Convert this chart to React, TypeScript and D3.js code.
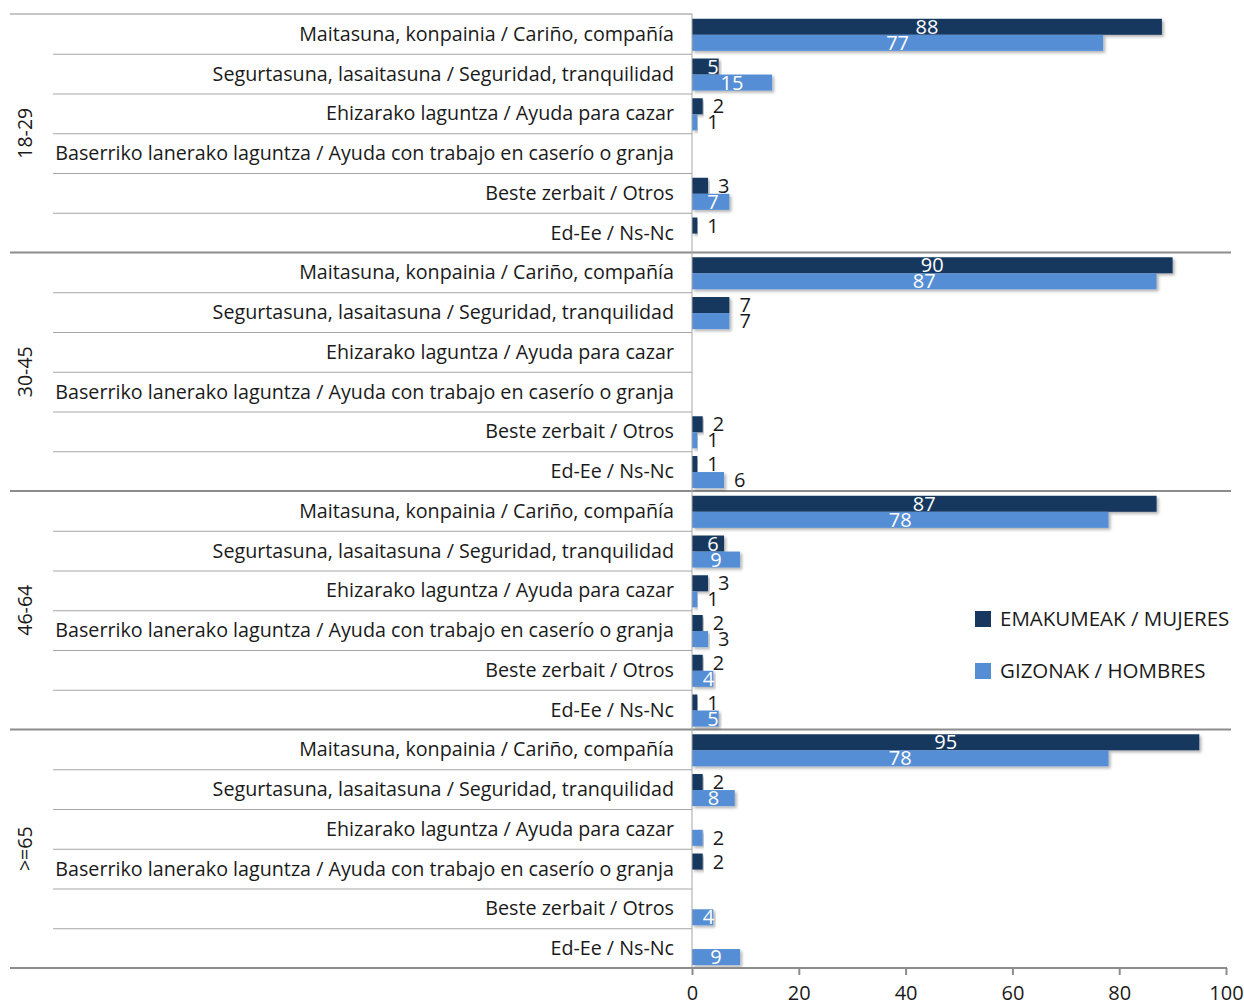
import React, { useEffect, useRef } from "react";
import * as d3 from "d3";

const groups = ["18-29", "30-45", "46-64", ">=65"];
const categories = [
  "Maitasuna, konpainia / Cariño, compañía",
  "Segurtasuna, lasaitasuna / Seguridad, tranquilidad",
  "Ehizarako laguntza / Ayuda para cazar",
  "Baserriko lanerako laguntza / Ayuda con trabajo en caserío o granja",
  "Beste zerbait / Otros",
  "Ed-Ee / Ns-Nc",
];
const seriesNames = ["EMAKUMEAK / MUJERES", "GIZONAK / HOMBRES"];

// values per group, in category order (null = no bar)
const women: (number | null)[][] = [
  [88, 5, 2, null, 3, 1],
  [90, 7, null, null, 2, 1],
  [87, 6, 3, 2, 2, 1],
  [95, 2, null, 2, null, null],
];
const men: (number | null)[][] = [
  [77, 15, 1, null, 7, null],
  [87, 7, null, null, 1, 6],
  [78, 9, 1, 3, 4, 5],
  [78, 8, 2, null, 4, 9],
];
const xTicks = [0, 20, 40, 60, 80, 100];

const colors = ["#17375e", "#558ed5"];
const FONT = "'Open Sans', 'Noto Sans', sans-serif";

const App = () => {
  const svgRef = useRef<SVGSVGElement>(null);

  useEffect(() => {
    document.body.style.margin = "0";
    const svg = d3.select(svgRef.current);
    svg.selectAll("*").remove();

    const width = 1244;
    const height = 1005;
    const plotLeft = 692;
    const plotRight = 1226;
    const top = 14;
    const bottom = 968;

    svg.attr("width", width).attr("height", height).style("font-family", FONT);

    const defs = svg.append("defs");
    const filter = defs.append("filter").attr("id", "shadow").attr("x", "-5%").attr("y", "-30%").attr("width", "115%").attr("height", "180%");
    filter
      .append("feDropShadow")
      .attr("dx", 2)
      .attr("dy", 2)
      .attr("stdDeviation", 1.5)
      .attr("flood-color", "#000")
      .attr("flood-opacity", 0.3);

    const rows: { g: number; c: number; key: string }[] = [];
    groups.forEach((_, gi) =>
      categories.forEach((_, ci) => rows.push({ g: gi, c: ci, key: `${gi}|${ci}` }))
    );

    const x = d3.scaleLinear().domain([0, 100]).range([plotLeft, plotRight]);
    const y = d3
      .scaleBand()
      .domain(rows.map((r) => r.key))
      .range([top, bottom]);
    const ySub = d3
      .scaleBand()
      .domain(["0", "1"])
      .range([0, y.bandwidth()])
      .paddingOuter(0.24)
      .paddingInner(0)
      .align(0.62);

    const groupH = y.bandwidth() * categories.length;

    // row separator lines (inside groups)
    rows.forEach((r) => {
      if (r.c === 0) return;
      svg
        .append("line")
        .attr("x1", 53)
        .attr("x2", plotLeft)
        .attr("y1", y(r.key)! + 0.5)
        .attr("y2", y(r.key)! + 0.5)
        .attr("stroke", "#a6a6a6")
        .attr("stroke-width", 1);
    });

    // group separator lines
    groups.forEach((_, gi) => {
      const yy = top + gi * groupH;
      svg
        .append("line")
        .attr("x1", 10)
        .attr("x2", gi === 0 ? plotLeft : 1231)
        .attr("y1", yy)
        .attr("y2", yy)
        .attr("stroke", "#8c8c8c")
        .attr("stroke-width", gi === 0 ? 1.2 : 2);
    });

    // group labels
    groups.forEach((gname, gi) => {
      const cy = top + gi * groupH + groupH / 2;
      svg
        .append("text")
        .attr("transform", `translate(25,${cy}) rotate(-90)`)
        .attr("text-anchor", "middle")
        .attr("dy", "0.35em")
        .attr("font-size", "19.5px")
        .attr("fill", "#1a1a1a")
        .text(gname);
    });

    // category labels
    svg
      .selectAll(".cat-label")
      .data(rows)
      .enter()
      .append("text")
      .attr("class", "cat-label")
      .attr("x", plotLeft - 18)
      .attr("y", (d) => y(d.key)! + y.bandwidth() / 2)
      .attr("dy", "0.35em")
      .attr("text-anchor", "end")
      .attr("font-size", "19.7px")
      .attr("fill", "#1a1a1a")
      .text((d) => categories[d.c]);

    // bars
    const bars: { g: number; c: number; s: number; v: number; key: string }[] = [];
    rows.forEach((r) => {
      [women, men].forEach((arr, s) => {
        const v = arr[r.g][r.c];
        if (v !== null) bars.push({ g: r.g, c: r.c, s, v, key: r.key });
      });
    });

    svg
      .selectAll(".bar")
      .data(bars)
      .enter()
      .append("rect")
      .attr("class", "bar")
      .attr("x", x(0))
      .attr("y", (d) => y(d.key)! + ySub(String(d.s))!)
      .attr("width", (d) => x(d.v) - x(0))
      .attr("height", ySub.bandwidth())
      .attr("fill", (d) => colors[d.s])
      .attr("filter", "url(#shadow)");

    // value labels
    const inside = (d: { g: number; v: number }) => (d.g === 1 ? d.v > 50 : d.v >= 4);
    svg
      .selectAll(".val-label")
      .data(bars)
      .enter()
      .append("text")
      .attr("class", "val-label")
      .attr("x", (d) => {
        const end = x(d.v);
        if (!inside(d)) return end + 10;
        const c = (x(0) + end) / 2;
        return Math.min(Math.max(c, x(0) + 21), end - 5);
      })
      .attr("y", (d) => y(d.key)! + ySub(String(d.s))! + ySub.bandwidth() / 2)
      .attr("dy", "0.35em")
      .attr("text-anchor", (d) => (inside(d) ? "middle" : "start"))
      .attr("font-size", "20px")
      .attr("fill", (d) => (inside(d) ? "#ffffff" : "#1a1a1a"))
      .text((d) => d.v);

    // vertical category axis line
    svg
      .append("line")
      .attr("x1", plotLeft)
      .attr("x2", plotLeft)
      .attr("y1", top)
      .attr("y2", bottom)
      .attr("stroke", "#a6a6a6")
      .attr("stroke-width", 1);

    // x axis
    const axis = svg
      .append("g")
      .attr("transform", `translate(0,${bottom})`)
      .call(d3.axisBottom(x).tickValues(xTicks).tickSize(7).tickPadding(11));
    axis.select(".domain").remove();
    axis.selectAll(".tick line").attr("stroke", "#8c8c8c").attr("stroke-width", 2);
    axis
      .selectAll(".tick text")
      .attr("font-size", "20px")
      .attr("font-family", FONT)
      .attr("fill", "#1a1a1a");
    svg
      .append("line")
      .attr("x1", 10)
      .attr("x2", plotRight + 1)
      .attr("y1", bottom)
      .attr("y2", bottom)
      .attr("stroke", "#8c8c8c")
      .attr("stroke-width", 2);

    // legend
    const legend = svg.append("g").attr("transform", "translate(975,611)");
    const items = legend
      .selectAll(".legend-item")
      .data(seriesNames)
      .enter()
      .append("g")
      .attr("class", "legend-item")
      .attr("transform", (_, i) => `translate(0,${i * 52})`);
    items
      .append("rect")
      .attr("width", 16)
      .attr("height", 16)
      .attr("fill", (_, i) => colors[i]);
    items
      .append("text")
      .attr("x", 25)
      .attr("y", 8)
      .attr("dy", "0.35em")
      .attr("font-size", "20.5px")
      .attr("fill", "#1a1a1a")
      .text((d) => d);
  }, []);

  return (
    <div>
      <svg ref={svgRef}></svg>
    </div>
  );
};

export default App;
